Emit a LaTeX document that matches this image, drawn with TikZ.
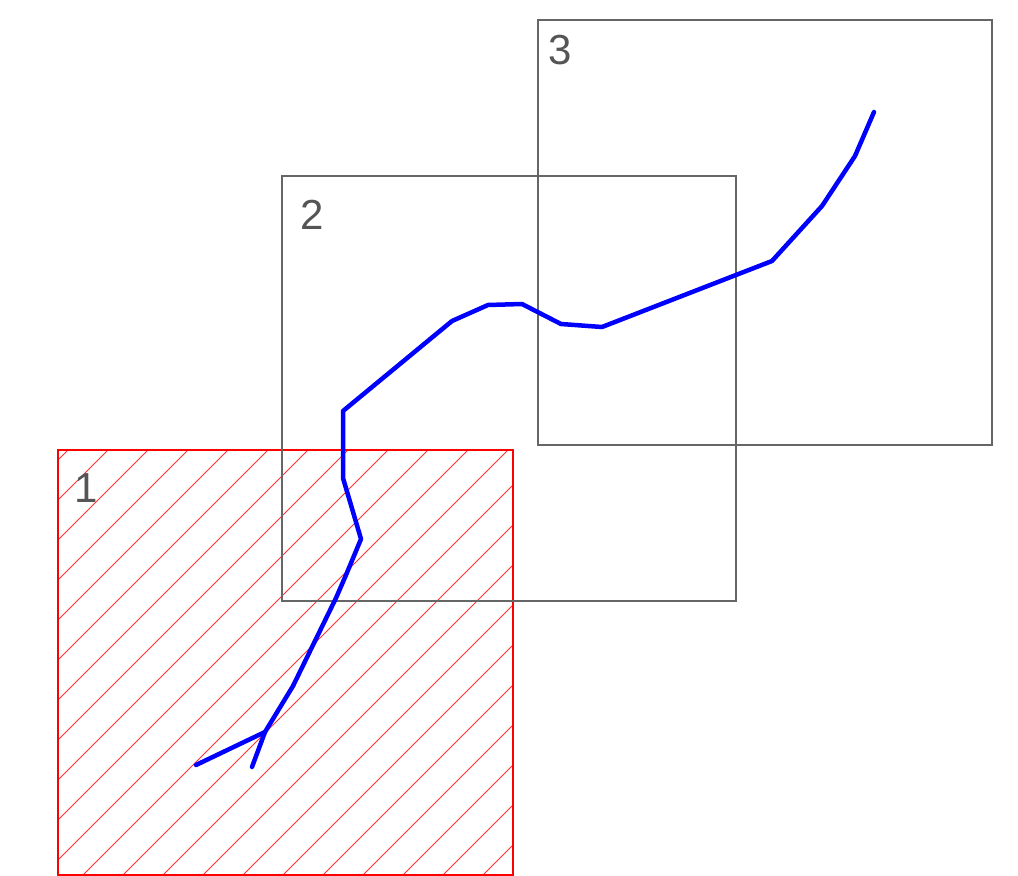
\documentclass[tikz,border=0pt]{standalone}
\usepackage{fontspec}
\setmainfont{Liberation Sans}
\definecolor{boxgray}{HTML}{666666}
\definecolor{labgray}{HTML}{555555}
\definecolor{hatchred}{HTML}{FF3333}
\begin{document}
\begin{tikzpicture}[x=1pt,y=-1pt,
  frame/.style={draw=boxgray,line width=1.5pt},
  lab/.style={text=labgray,font=\fontsize{42}{42}\selectfont,inner sep=0pt},
  track/.style={draw=blue,line width=4.5pt,line join=round,line cap=round}]
\useasboundingbox (0,0) rectangle (1018,876);
% region 1 (hatched)
\begin{scope}
  \clip (58,450) rectangle (513,875);
  \foreach \c in {518,558,...,1398}
    \draw[hatchred,line width=1pt] (\c-875,875) -- (\c-450,450);
\end{scope}
\draw[red,line width=1.6pt] (58,450) rectangle (513,875);
% region 2 and 3
\draw[frame] (282,176) rectangle (736,601);
\draw[frame] (538,20) rectangle (992,445);
\node[lab] (l1) at (86,488) {1};
\node[lab] (l2) at (312,215) {2};
\node[lab] (l3) at (560,50) {3};
% track
\draw[track] (874,112) -- (855,156) -- (822,206) -- (772,261) -- (602,327)
  -- (561,324) -- (522,304) -- (488,305) -- (452,321) -- (343,411)
  -- (343,478) -- (361,539) -- (346,575) -- (336,598) -- (293,686)
  -- (265,732) -- (196,765);
\draw[track] (265,732) -- (252,767);
\end{tikzpicture}
\end{document}
